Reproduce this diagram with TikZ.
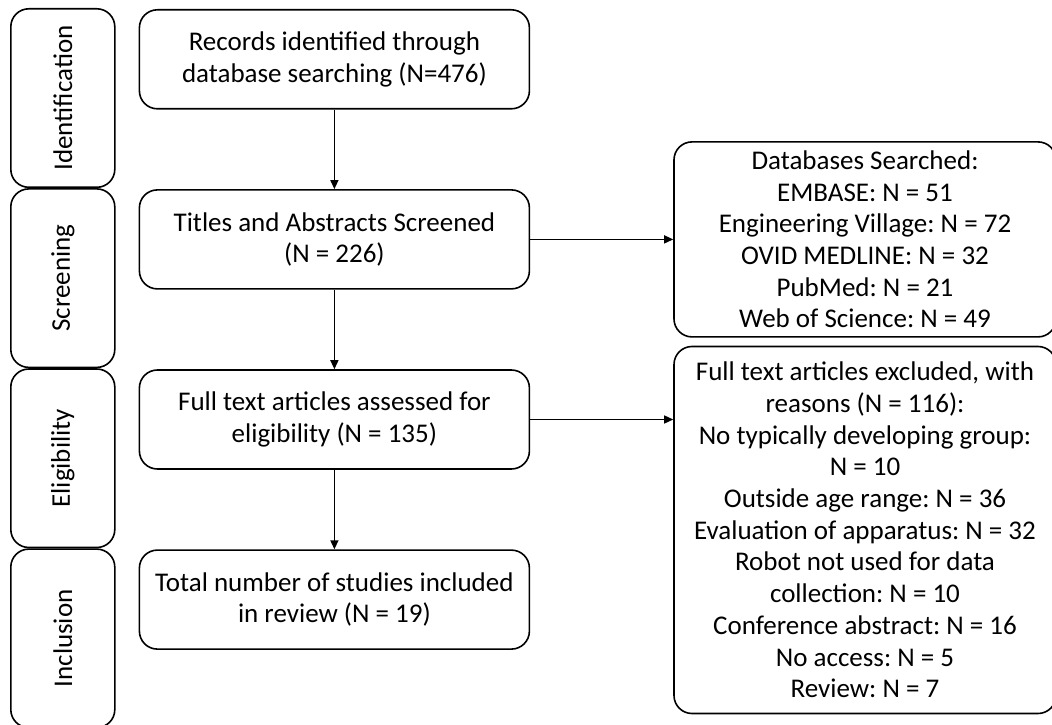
\documentclass[tikz,border=0pt]{standalone}
\usepackage{fontspec}
\setmainfont{Carlito}
\usepackage{graphicx}
\usepackage{tikz}
\usetikzlibrary{arrows.meta, positioning}
\frenchspacing

\begin{document}
\begin{tikzpicture}[x=1pt, y=1pt, node distance=0pt and 25pt,
  every node/.style={font=\fontsize{27}{31.7}\selectfont},
  phase/.style={draw, line width=1.6pt, rounded corners=18pt, minimum width=104pt, minimum height=178.5pt, inner sep=0pt},
  box/.style={draw, line width=1.6pt, rounded corners=18pt, align=center, minimum width=#1, inner sep=5pt},
  arr/.style={-{Triangle[length=9pt, width=8pt]}, line width=1.4pt}]
  \useasboundingbox (0,0) rectangle (1052,724);
  % phases on the left
  \node[phase, anchor=north west] (ident) at (10,716) {\rotatebox{90}{Identification}};
  \node[phase, below=of ident] (scr) {\rotatebox{90}{Screening}};
  \node[phase, below=of scr] (elig) {\rotatebox{90}{Eligibility}};
  \node[phase, below=of elig] (incl) {\rotatebox{90}{Inclusion}};
  % main flow
  \node[box=390pt, minimum height=99pt, below right=1pt and 23pt of ident.north east] (rec) {Records identified through\\database searching (N=476)};
  \node[box=390pt, minimum height=99pt, below right=1pt and 23pt of scr.north east] (titles) {Titles and Abstracts Screened\\(N = 226)};
  \node[box=390pt, minimum height=99pt, below right=1pt and 23pt of elig.north east] (ft) {Full text articles assessed for\\eligibility (N = 135)};
  \node[box=390pt, minimum height=99pt, below right=1pt and 23pt of incl.north east] (total) {Total number of studies included\\in review (N = 19)};
  % side boxes
  \node[box=382pt, minimum height=195pt, right=143pt of titles] (db) {Databases Searched:\\EMBASE: N = 51\\Engineering Village: N = 72\\OVID MEDLINE: N = 32\\PubMed: N = 21\\Web of Science: N = 49};
  \node[box=382pt, minimum height=367pt, below=8pt of db] (excl) {Full text articles excluded, with\\reasons (N = 116):\\No typically developing group:\\N = 10\\Outside age range: N = 36\\Evaluation of apparatus: N = 32\\Robot not used for data\\collection: N = 10\\Conference abstract: N = 16\\No access: N = 5\\Review: N = 7};
  \draw[arr] (rec) -- (titles);
  \draw[arr] (titles) -- (ft);
  \draw[arr] (ft) -- (total);
  \draw[arr] (titles) -- (db);
  \draw[arr] (ft.east) -- (ft.east -| excl.west);
\end{tikzpicture}
\end{document}
